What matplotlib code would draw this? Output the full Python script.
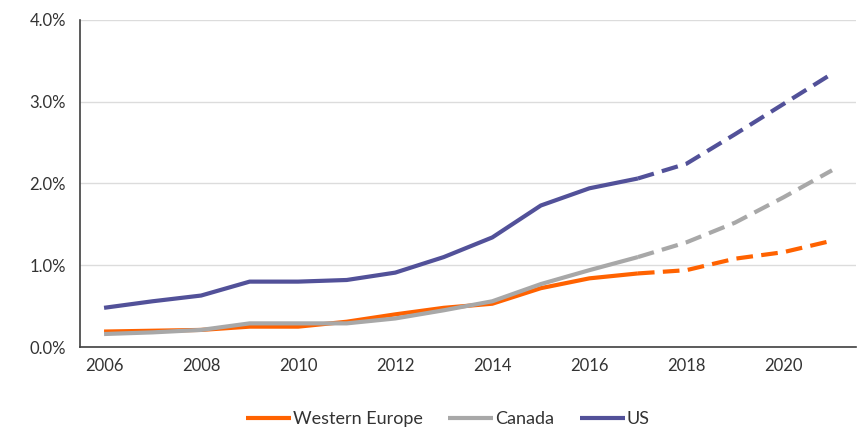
import numpy as np
import matplotlib
matplotlib.use("Agg")
import matplotlib.pyplot as plt
from matplotlib.ticker import FuncFormatter

plt.rcParams['font.family'] = ['Lato', 'DejaVu Sans']

years = list(range(2006, 2022))
western_europe = [0.19, 0.20, 0.21, 0.25, 0.25, 0.31, 0.40, 0.48, 0.53, 0.72, 0.84, 0.90,
                  0.94, 1.08, 1.16, 1.30]
canada = [0.16, 0.18, 0.21, 0.29, 0.29, 0.29, 0.35, 0.45, 0.56, 0.77, 0.94, 1.10,
          1.28, 1.52, 1.83, 2.16]
us = [0.48, 0.56, 0.63, 0.80, 0.80, 0.82, 0.91, 1.10, 1.34, 1.73, 1.94, 2.06,
      2.24, 2.60, 2.97, 3.34]
forecast_start = 2017

series = [("Western Europe", western_europe, "#FF6200"),
          ("Canada", canada, "#A8A8A8"),
          ("US", us, "#525199")]

fig = plt.figure(figsize=(8.58, 4.28), dpi=100)
ax = fig.add_axes([0.093, 0.189, 0.905, 0.765])

x = np.array(years)
split = years.index(forecast_start)
for name, vals, col in series:
    v = np.array(vals)
    # actuals solid, projections dashed
    ax.plot(x[:split + 1], v[:split + 1], color=col, lw=3, label=name,
            solid_capstyle="butt")
    ax.plot(x[split:], v[split:], color=col, lw=3, ls=(0, (4, 2)),
            dash_capstyle="butt")

ax.set_xlim(2005.5, 2021.5)
ax.set_ylim(0, 4.0)
ax.set_xticks(range(2006, 2022, 2))
ax.set_yticks([0, 1, 2, 3, 4])
ax.yaxis.set_major_formatter(FuncFormatter(lambda v, p: "{:.1f}%".format(v)))
ax.grid(axis="y", color="#DCDCDC", lw=1)
ax.set_axisbelow(True)
for s in ["top", "right"]:
    ax.spines[s].set_visible(False)
for s in ["left", "bottom"]:
    ax.spines[s].set_color("#404040")
    ax.spines[s].set_linewidth(1.2)
ax.tick_params(length=0, labelsize=12, colors="#333333", pad=8)
ax.tick_params(axis="y", pad=10)

ax.legend(loc="upper center", bbox_to_anchor=(0.474, -0.145), ncol=3, frameon=False,
          fontsize=13, handlelength=2.5, handletextpad=0.1, columnspacing=1.4,
          labelcolor="#333333")

fig.savefig("out.png", dpi=100)
